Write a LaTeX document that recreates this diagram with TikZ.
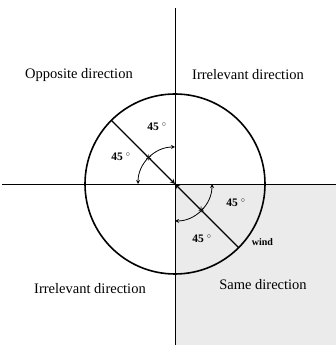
\documentclass[tikz,border=0pt]{standalone}
\usepackage{fontspec}
\setmainfont{Liberation Serif}

\begin{document}
\begin{tikzpicture}[x=1pt, y=1pt, >=stealth, every node/.style={font=\fontsize{14.5}{16}\selectfont, inner sep=1pt}]
        \useasboundingbox (0,0) rectangle (336,345);
        \fill[black!8] (175,0) rectangle (336,161);
        \coordinate (o) at (175,161);
        \coordinate (top) at (175,337);
        \coordinate (bottom) at (175,0);
        \coordinate (left) at (2,161);
        \coordinate (right) at (336,161);
        \path (o) ++(135:90) coordinate (ul);
        \path (o) ++(-45:90) coordinate (lr);
        \draw[semithick] (top) -- (bottom);
        \draw[semithick] (left) -- (right);
        \draw[line width=1.6pt] (o) circle (90);
        \draw[->, line width=1.2pt] (ul) -- (o);
        \draw[->, line width=1.2pt] (lr) -- (o);
        \draw[<->, thick] (o) ++(180:37) arc (180:90:37);
        \draw[<->, thick] (o) ++(270:37) arc (270:360:37);
        \path (o) ++(135:37) node (s1) {\bfseries\Large $\ast$};
        \path (o) ++(-45:37) node (s2) {\bfseries\Large $\ast$};
        \node at (79,270) (opp) {Opposite direction};
        \node at (248,270) (irr1) {Irrelevant direction};
        \node at (90,56) (irr2) {Irrelevant direction};
        \node at (263,60) (same) {Same direction};
        \node[font=\fontsize{10}{12}\selectfont\bfseries, anchor=west, xshift=12pt, yshift=6pt] at (lr) (wind) {wind};
        \node[font=\fontsize{11.5}{12}\selectfont\bfseries] at (157,218) (a1) {45 $^\circ$};
        \node[font=\fontsize{11.5}{12}\selectfont\bfseries] at (121,188) (a2) {45 $^\circ$};
        \node[font=\fontsize{11.5}{12}\selectfont\bfseries] at (236,142) (a3) {45 $^\circ$};
        \node[font=\fontsize{11.5}{12}\selectfont\bfseries] at (202,106) (a4) {45 $^\circ$};
      \end{tikzpicture}
\end{document}
